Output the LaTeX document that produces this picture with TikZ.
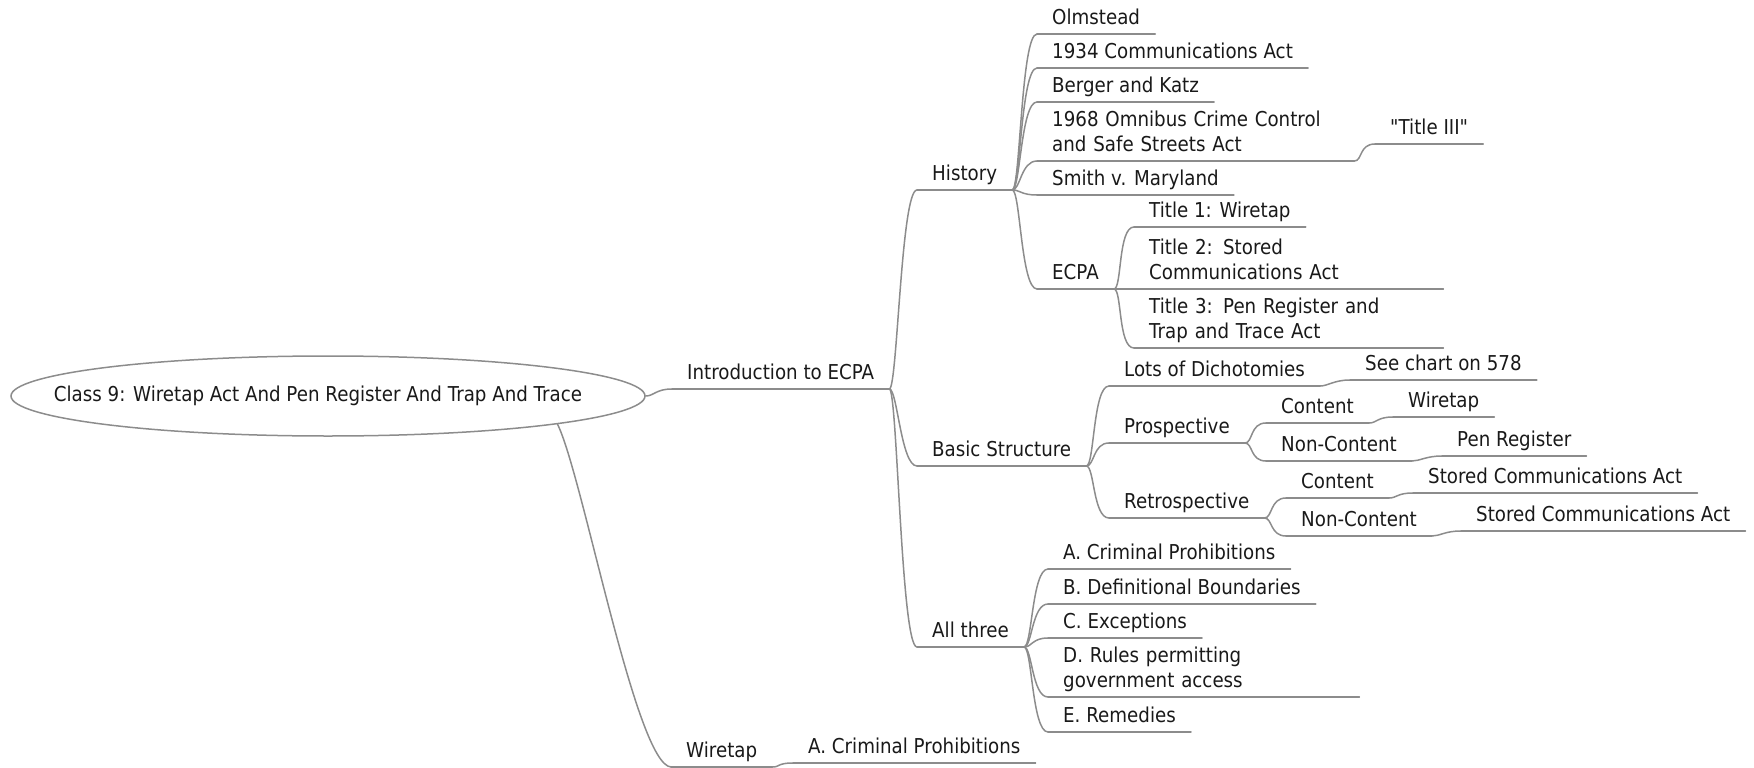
\documentclass[tikz,border=0pt]{standalone}
\usepackage{fontspec}
\newfontfamily\mapfont{DejaVu Sans}[FakeStretch=0.89]
\usepackage{tikz}
\usetikzlibrary{shapes.geometric}
\definecolor{mapline}{RGB}{140,140,140}
\definecolor{maptext}{RGB}{25,25,25}

\begin{document}
\begin{tikzpicture}[x=1pt,y=-1pt,
  line/.style={draw=mapline,line width=1.5pt,line cap=round},
  topic/.style={anchor=south west,inner xsep=15pt,inner ysep=1.5pt,align=left,
    text=maptext,font=\mapfont\fontsize{20.5}{25}\selectfont,execute at end node=\strut},
  branch/.style={to path={.. controls +(8,0) and +(-16,0) .. (\tikztotarget)}}]
\useasboundingbox (0,0) rectangle (1754,768);

% root
\node[ellipse,line,minimum width=634pt,minimum height=80pt,inner sep=0pt,
  text=maptext,font=\mapfont\fontsize{20.5}{25}\selectfont] (root) at (328,396)
  {\makebox[0pt]{Class 9: Wiretap Act And Pen Register And Trap And Trace\hspace*{20pt}}};

\node[topic] (intro) at (672,389) {Introduction to ECPA};

% history
\node[topic] (hist) at (917,190) {History};
\node[topic] (olm) at (1037,34) {Olmstead};
\node[topic] (comm) at (1037,68) {1934 Communications Act};
\node[topic] (katz) at (1037,102) {Berger and Katz};
\node[topic,text width=287pt] (omni) at (1037,161) {1968 Omnibus Crime Control\\and Safe Streets Act};
\node[topic] (tIII) at (1375,144) {"Title III"};
\node[topic] (smith) at (1037,195) {Smith v. Maryland};
\node[topic] (ecpa) at (1037,289) {ECPA};
\node[topic] (tone) at (1134,227) {Title 1: Wiretap};
\node[topic,text width=279pt] (ttwo) at (1134,289) {Title 2: Stored\\Communications Act};
\node[topic,text width=279pt] (tthree) at (1134,348) {Title 3: Pen Register and\\Trap and Trace Act};

% basic structure
\node[topic] (basic) at (917,466) {Basic Structure};
\node[topic] (dich) at (1109,386) {Lots of Dichotomies};
\node[topic] (chart) at (1350,380) {See chart on 578};
\node[topic] (pros) at (1109,443) {Prospective};
\node[topic] (pcont) at (1266,423) {Content};
\node[topic] (pwire) at (1393,417) {Wiretap};
\node[topic] (pnon) at (1266,461) {Non-Content};
\node[topic] (ppen) at (1442,456) {Pen Register};
\node[topic] (retro) at (1109,518) {Retrospective};
\node[topic] (rcont) at (1286,498) {Content};
\node[topic] (rsca) at (1413,493) {Stored Communications Act};
\node[topic] (rnon) at (1286,536) {Non-Content};
\node[topic] (rscb) at (1461,531) {Stored Communications Act};

% all three
\node[topic] (all) at (917,647) {All three};
\node[topic] (crim) at (1048,569) {A. Criminal Prohibitions};
\node[topic] (defn) at (1048,604) {B. Definitional Boundaries};
\node[topic] (exc) at (1048,638) {C. Exceptions};
\node[topic,text width=281pt] (rules) at (1048,697) {D. Rules permitting\\government access};
\node[topic] (rem) at (1048,732) {E. Remedies};

% wiretap
\node[topic] (wire) at (671,767) {Wiretap};
\node[topic] (wcrim) at (793,763) {A. Criminal Prohibitions};

% underlines
\foreach \n in {intro,hist,olm,comm,katz,omni,tIII,smith,ecpa,tone,ttwo,tthree,
  basic,dich,chart,pros,pcont,pwire,pnon,ppen,retro,rcont,rsca,rnon,rscb,
  all,crim,defn,exc,rules,rem,wire,wcrim}
  \draw[line] (\n.south west) -- (\n.south east);

% branches
\draw[line] (root.east) to[branch] (intro.south west);
\draw[line] (root.-7) .. controls +(25,50) and +(-35,-2) .. (wire.south west);
\foreach \a/\b in {intro/hist,intro/basic,intro/all,
  hist/olm,hist/comm,hist/katz,hist/omni,hist/smith,hist/ecpa,omni/tIII,
  ecpa/tone,ecpa/ttwo,ecpa/tthree,
  basic/dich,basic/pros,basic/retro,dich/chart,
  pros/pcont,pros/pnon,pcont/pwire,pnon/ppen,
  retro/rcont,retro/rnon,rcont/rsca,rnon/rscb,
  all/crim,all/defn,all/exc,all/rules,all/rem,wire/wcrim}
  \draw[line] (\a.south east) to[branch] (\b.south west);
\end{tikzpicture}
\end{document}
